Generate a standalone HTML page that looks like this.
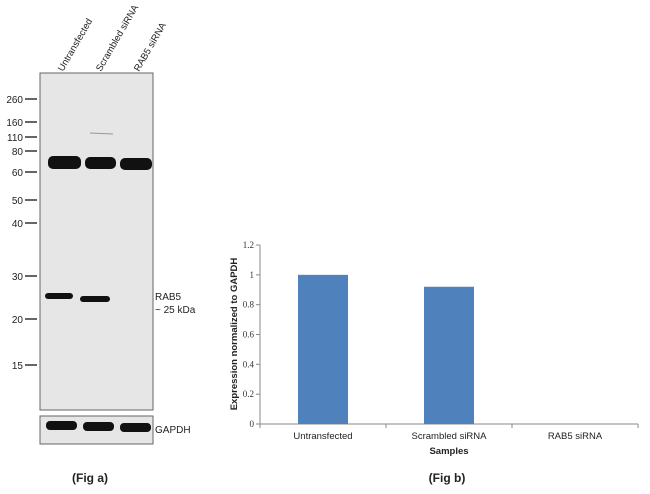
<!DOCTYPE html>
<html><head><meta charset="utf-8"><style>
body{margin:0;background:#fff;width:650px;height:494px;overflow:hidden;font-family:"Liberation Sans",sans-serif}
svg{position:absolute;left:0;top:0}
</style></head><body>
<svg width="650" height="494" xmlns="http://www.w3.org/2000/svg">
<g font-family="Liberation Sans" font-size="10" fill="#222">
  <rect x="40" y="73" width="113" height="337" fill="#e6e6e6" stroke="#666" stroke-width="1"/>
  <rect x="40" y="416" width="113" height="28" fill="#e6e6e6" stroke="#666" stroke-width="1"/>
  <g font-size="9.5">
    <text transform="translate(63,72) rotate(-60)">Untransfected</text>
    <text transform="translate(101,72) rotate(-60)">Scrambled siRNA</text>
    <text transform="translate(139,72) rotate(-60)">RAB5 siRNA</text>
  </g>
  <g stroke="#333" stroke-width="1.5">
    <line x1="25" x2="37" y1="99" y2="99"/><line x1="25" x2="37" y1="122" y2="122"/>
    <line x1="25" x2="37" y1="137" y2="137"/><line x1="25" x2="37" y1="151" y2="151"/>
    <line x1="25" x2="37" y1="172" y2="172"/><line x1="25" x2="37" y1="200" y2="200"/>
    <line x1="25" x2="37" y1="223" y2="223"/><line x1="25" x2="37" y1="276" y2="276"/>
    <line x1="25" x2="37" y1="319" y2="319"/><line x1="25" x2="37" y1="365" y2="365"/>
  </g>
  <g text-anchor="end">
    <text x="23" y="103">260</text><text x="23" y="126">160</text><text x="23" y="141">110</text>
    <text x="23" y="155">80</text><text x="23" y="176">60</text><text x="23" y="204">50</text>
    <text x="23" y="227">40</text><text x="23" y="280">30</text><text x="23" y="323">20</text>
    <text x="23" y="369">15</text>
  </g>
  <g fill="#111">
    <rect x="48" y="156" width="33" height="13" rx="5"/>
    <rect x="85" y="157" width="31" height="12" rx="5"/>
    <rect x="120" y="158" width="32" height="12" rx="5"/>
  </g>
  <line x1="90" y1="133" x2="113" y2="134" stroke="#999" stroke-width="1"/>
  <g fill="#111">
    <rect x="45" y="293" width="28" height="6" rx="3"/>
    <rect x="80" y="296" width="30" height="6" rx="3"/>
  </g>
  <g fill="#111">
    <rect x="46" y="421" width="31" height="9" rx="4"/>
    <rect x="83" y="422" width="31" height="9" rx="4"/>
    <rect x="120" y="423" width="31" height="9" rx="4"/>
  </g>
  <text x="155" y="300">RAB5</text>
  <text x="155" y="313">~ 25 kDa</text>
  <text x="155" y="433">GAPDH</text>
  <text x="90" y="482" text-anchor="middle" font-weight="bold" font-size="12">(Fig a)</text>
</g>
<g id="chart"></g>
</svg>
<script>
const categories = ["Untransfected", "Scrambled siRNA", "RAB5 siRNA"];
const values = [1.0, 0.92, 0.0];
const yTicks = [0, 0.2, 0.4, 0.6, 0.8, 1, 1.2];
const yTickLabels = ["0", "0.2", "0.4", "0.6", "0.8", "1", "1.2"];
const NS = "http://www.w3.org/2000/svg";
const g = document.getElementById('chart');
const x0 = 260, x1 = 638, yTop = 245, yBot = 424, yMax = 1.2;
const bw = (x1 - x0) / categories.length;
function yS(v){ return yBot - (v / yMax) * (yBot - yTop); }
function xC(i){ return x0 + bw * (i + 0.5); }
function mk(tag, attrs, text){
  const e = document.createElementNS(NS, tag);
  for (const k in attrs) e.setAttribute(k, attrs[k]);
  if (text !== undefined) e.textContent = text;
  g.appendChild(e); return e;
}
let e;
e = mk('line', {x1:x0, x2:x0, y1:yTop, y2:yBot, stroke:'#888'});


e = mk('line', {x1:x0, x2:x1, y1:yBot, y2:yBot, stroke:'#888'});


yTicks.forEach((t, i) => {
  const y = yS(t);
  let tk = mk('line', {x1:x0-4, x2:x0, y1:y, y2:y, stroke:'#888'});
  
  
  let lb = mk('text', {x:x0-6, y:y+3, 'text-anchor':'end', 'font-family':'Liberation Serif', 'font-size':'9', fill:'#333'}, yTickLabels[i]);
  
  
});
for (let i = 0; i <= categories.length; i++) {
  let tk = mk('line', {x1:x0+bw*i, x2:x0+bw*i, y1:yBot, y2:yBot+4, stroke:'#888'});
  
  
}
categories.forEach((c, i) => {
  const w = 50;
  if (values[i] > 0) {
    let b = mk('rect', {x:xC(i)-w/2, y:yS(values[i]), width:w, height:yBot-yS(values[i]), fill:'#4f81bd'});
    
    
  }
  let lb = mk('text', {x:xC(i), y:439, 'text-anchor':'middle', 'font-family':'Liberation Sans', 'font-size':'9.5', fill:'#222'}, c);
  
  
});
e = mk('text', {x:449, y:454, 'text-anchor':'middle', 'font-family':'Liberation Sans', 'font-size':'9.5', 'font-weight':'bold', fill:'#222'}, 'Samples');


e = mk('text', {transform:'translate(237,334) rotate(-90)', 'text-anchor':'middle', 'font-family':'Liberation Sans', 'font-size':'9.5', 'font-weight':'bold', fill:'#222'}, 'Expression  normalized to GAPDH');


e = mk('text', {x:447, y:482, 'text-anchor':'middle', 'font-family':'Liberation Sans', 'font-size':'12', 'font-weight':'bold', fill:'#222'}, '(Fig b)');


</script>
</body></html>
